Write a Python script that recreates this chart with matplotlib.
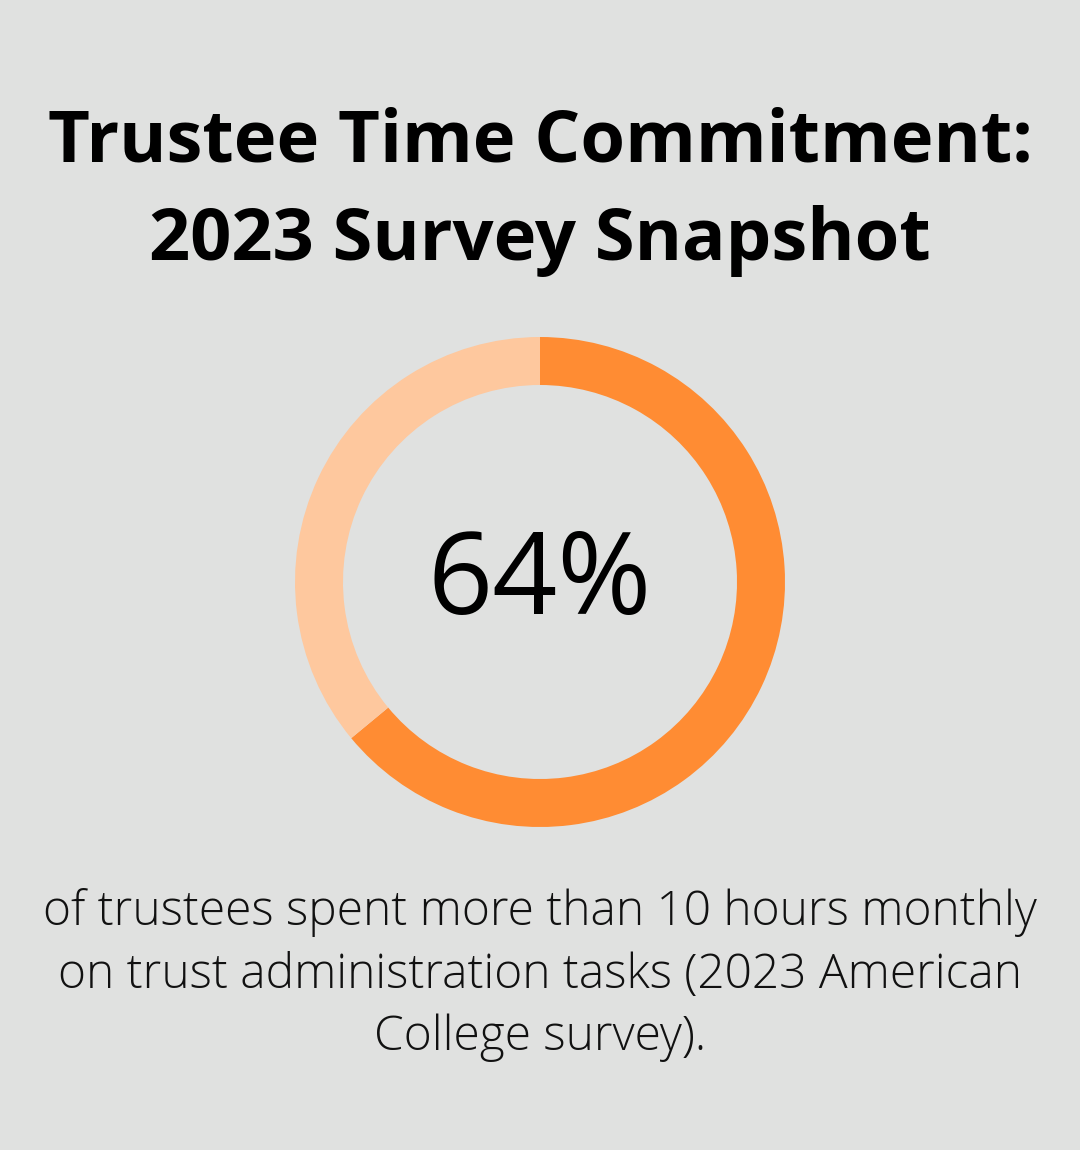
import matplotlib.pyplot as plt

plt.rcParams['font.family'] = ['Open Sans', 'DejaVu Sans']

title_lines = ["Trustee Time Commitment:", "2023 Survey Snapshot"]
shares = [64, 36]
colors = ["#FF8C33", "#FEC89E"]
center_label = "64%"
caption = ("of trustees spent more than 10 hours monthly\n"
           "on trust administration tasks (2023 American\n"
           "College survey).")

W, H = 1080, 1150
fig = plt.figure(figsize=(W / 100, H / 100), dpi=100)
fig.patch.set_facecolor("#E0E1E0")
ax = fig.add_axes([0, 0, 1, 1])

ax.text(540, H - 143, title_lines[0], ha="center", va="center",
        fontsize=52, fontweight="bold", color="#000000")
ax.text(540, H - 241, title_lines[1], ha="center", va="center",
        fontsize=52, fontweight="bold", color="#000000")

ax.pie(shares, colors=colors, startangle=90, counterclock=False,
       center=(540, H - 582), radius=245, frame=True,
       wedgeprops=dict(width=48, linewidth=0))
ax.set_xlim(0, W)
ax.set_ylim(0, H)
ax.set_aspect("equal")
ax.axis("off")

ax.text(540, H - 584, center_label, ha="center", va="center",
        fontsize=82, color="#000000")
ax.text(540, H - 975, caption, ha="center", va="center",
        fontsize=34.5, color="#111111", linespacing=1.37, fontweight="light")

fig.savefig("out.png", dpi=100, facecolor=fig.get_facecolor())
